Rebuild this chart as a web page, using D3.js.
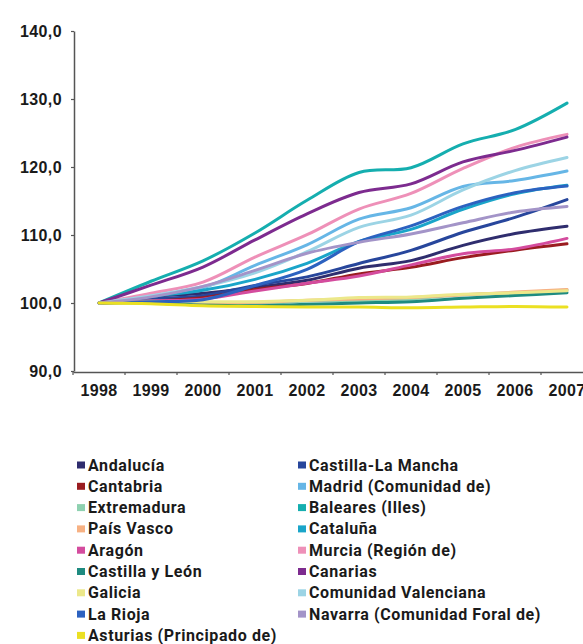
<!DOCTYPE html>
<html>
<head>
<meta charset="utf-8">
<script src="https://cdn.jsdelivr.net/npm/d3@7"></script>
<style>
  html, body { margin: 0; padding: 0; background: #fff; }
  svg { display: block; font-family: Roboto, "DejaVu Sans", sans-serif; }
  .axis text { font-size: 16px; font-weight: 700; fill: #1a1a1a; letter-spacing: 0.4px; }
</style>
</head>
<body>
<svg id="chart" width="583" height="644"></svg>
<script>
// ---- data ----
const years = ["1998","1999","2000","2001","2002","2003","2004","2005","2006","2007"];
const yTicks = [90, 100, 110, 120, 130, 140];

const andalucia        = [100, 100.95, 101.43, 102.31, 103.34, 105.12, 106.23, 108.48, 110.21, 111.3];
const castillaLaMancha = [100, 100.59, 101.06, 102.59, 103.84, 105.81, 107.74, 110.40, 112.59, 115.2];
const cantabria        = [100, 100.25, 100.76, 101.99, 102.87, 104.28, 105.24, 106.67, 107.77, 108.7];
const madrid           = [100, 101.06, 102.24, 105.52, 108.56, 112.33, 114.01, 117.14, 118.01, 119.4];
const extremadura      = [100, 100.3, 100.0, 99.8, 100.3, 100.4, 100.6, 101.2, 101.5, 101.9];
const baleares         = [100, 103.2, 106.2, 110.3, 115.1, 119.2, 119.9, 123.4, 125.5, 129.4];
const paisVasco        = [100, 100.1, 100.0, 100.1, 100.4, 100.6, 100.8, 101.2, 101.6, 102.0];
const cataluna         = [100, 100.97, 101.86, 103.48, 105.84, 109.05, 110.83, 113.79, 116.06, 117.3];
const aragon           = [100, 100.31, 100.57, 101.77, 102.90, 103.96, 105.61, 107.25, 107.96, 109.5];
const murcia           = [100, 101.44, 103.07, 106.75, 110.04, 113.82, 116.11, 119.79, 122.89, 124.8];
const castillaLeon     = [100, 100.0, 99.7, 99.6, 99.8, 100.0, 100.2, 100.7, 101.1, 101.5];
const canarias         = [100, 102.62, 105.29, 109.28, 113.11, 116.25, 117.52, 120.75, 122.44, 124.4];
const galicia          = [100, 100.2, 100.2, 100.2, 100.4, 100.8, 100.9, 101.3, 101.5, 101.8];
const valenciana       = [100, 101.07, 102.42, 104.45, 107.54, 111.12, 112.92, 116.63, 119.47, 121.4];
const laRioja          = [100, 100.20, 100.49, 102.56, 104.95, 109.01, 111.34, 114.20, 116.21, 117.2];
const navarra          = [100, 100.9, 102.44, 104.79, 107.31, 108.93, 110.16, 111.80, 113.39, 114.2];
const asturias         = [100, 99.9, 99.6, 99.5, 99.4, 99.4, 99.3, 99.4, 99.5, 99.4];

// legend / series order (row-wise, two columns)
const seriesNames = [
  "Andalucía", "Castilla-La Mancha",
  "Cantabria", "Madrid (Comunidad de)",
  "Extremadura", "Baleares (Illes)",
  "País Vasco", "Cataluña",
  "Aragón", "Murcia (Región de)",
  "Castilla y León", "Canarias",
  "Galicia", "Comunidad Valenciana",
  "La Rioja", "Navarra (Comunidad Foral de)",
  "Asturias (Principado de)"
];
const seriesValues = [
  andalucia, castillaLaMancha, cantabria, madrid, extremadura, baleares,
  paisVasco, cataluna, aragon, murcia, castillaLeon, canarias,
  galicia, valenciana, laRioja, navarra, asturias
];
const seriesColors = [
  "#2f2d6e", "#27469c",
  "#9a1c20", "#66b6e6",
  "#8ed1b0", "#15aeaf",
  "#f7b183", "#1aa5c9",
  "#d44c9e", "#ee90b8",
  "#1e8b80", "#7d2b8f",
  "#ece88a", "#9cd4e5",
  "#2c62c0", "#a394c8",
  "#ebe022"
];

// ---- layout ----
const svg = d3.select("#chart");
const axisX0 = 74, plotTop = 31, plotBottom = 371;

const x = d3.scaleBand().domain(years).range([73, 593]);
const y = d3.scaleLinear().domain([90, 140]).range([plotBottom, plotTop]);

const fmt = v => d3.format(".1f")(v).replace(".", ",");

// y axis
const yAxis = svg.append("g")
  .attr("class", "axis")
  .attr("transform", `translate(${axisX0},0)`)
  .call(d3.axisLeft(y).tickValues(yTicks).tickFormat(fmt).tickSize(3).tickPadding(9).tickSizeOuter(0));
yAxis.select(".domain").attr("stroke", "#555").attr("stroke-width", 1.5);
yAxis.selectAll(".tick line").attr("stroke", "#555").attr("stroke-width", 1.2);
yAxis.selectAll("text").attr("dy", "0.36em");

// x axis
const xAxis = svg.append("g")
  .attr("class", "axis")
  .attr("transform", `translate(0,${plotBottom + 1})`)
  .call(d3.axisBottom(x).tickSize(0).tickPadding(13).tickSizeOuter(0));
xAxis.select(".domain").attr("stroke", "#555").attr("stroke-width", 1.5);
// tick marks at band boundaries
xAxis.selectAll(".bt")
  .data(years)
  .join("line")
  .attr("class", "bt")
  .attr("x1", d => x(d)).attr("x2", d => x(d))
  .attr("y1", 0).attr("y2", 3)
  .attr("stroke", "#555").attr("stroke-width", 1.2);

// lines
const line = d3.line()
  .x((d, i) => x(years[i]) + x.bandwidth() / 2)
  .y(d => y(d))
  .curve(d3.curveCatmullRom.alpha(0.5));

svg.append("g")
  .selectAll("path")
  .data(seriesValues)
  .join("path")
  .attr("d", d => line(d))
  .attr("fill", "none")
  .attr("stroke", (d, i) => seriesColors[i])
  .attr("stroke-width", 3)
  .attr("stroke-linejoin", "round")
  .attr("stroke-linecap", "round");

// legend
const legend = svg.append("g");
const colX = [77, 298], rowY0 = 465, rowH = 21.3;
seriesNames.forEach((name, i) => {
  const col = i % 2, row = Math.floor(i / 2);
  const gx = colX[col], gy = rowY0 + row * rowH;
  legend.append("rect")
    .attr("x", gx).attr("y", gy - 3.5)
    .attr("width", 8).attr("height", 7)
    .attr("fill", seriesColors[i]);
  legend.append("text")
    .attr("x", gx + 11).attr("y", gy + 5.5)
    .attr("font-size", "16px")
    .attr("font-weight", 700)
    .attr("letter-spacing", "0.6px")
    .attr("fill", "#1a1a1a")
    .text(name);
});
</script>
</body>
</html>
